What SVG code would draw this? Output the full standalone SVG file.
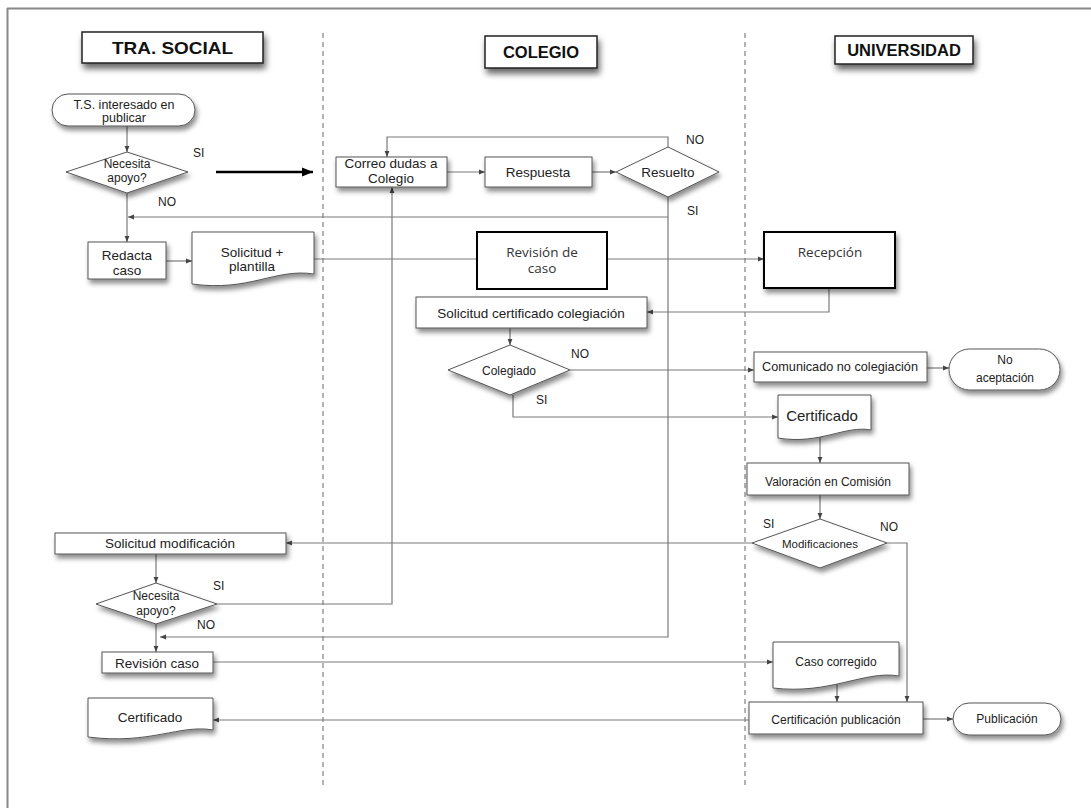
<svg xmlns="http://www.w3.org/2000/svg" width="1091" height="808" viewBox="0 0 1091 808">
<defs>
<filter id="sh" x="-20%" y="-30%" width="150%" height="190%">
<feDropShadow dx="2" dy="4" stdDeviation="2.5" flood-color="#000" flood-opacity="0.45"/>
</filter>
<filter id="shh" x="-20%" y="-30%" width="150%" height="200%">
<feDropShadow dx="2" dy="5" stdDeviation="3" flood-color="#000" flood-opacity="0.6"/>
</filter>
<marker id="ah" viewBox="0 0 10 10" refX="10" refY="5" markerWidth="6" markerHeight="6" markerUnits="userSpaceOnUse" orient="auto">
<path d="M0,1 L10,5 L0,9 Z" fill="#444"/>
</marker>
<marker id="bh" viewBox="0 0 10 10" refX="10" refY="5" markerWidth="11" markerHeight="11" markerUnits="userSpaceOnUse" orient="auto">
<path d="M0,1 L10,5 L0,9 Z" fill="#000"/>
</marker>
</defs>
<style>
.n{fill:#fff;stroke:#555;stroke-width:1;filter:url(#sh)}
.hd{fill:#fff;stroke:#222;stroke-width:1.5;filter:url(#shh)}
.bk{fill:#fff;stroke:#000;stroke-width:2}
.c{fill:none;stroke:#7a7a7a;stroke-width:1.2;marker-end:url(#ah)}
.cl{fill:none;stroke:#7a7a7a;stroke-width:1.2}
.t{font-family:"Liberation Sans",Arial,sans-serif;font-size:12px;fill:#222;text-anchor:middle}
.t13{font-size:13.5px}
.h{font-family:"Liberation Sans",Arial,sans-serif;font-weight:bold;font-size:16.5px;fill:#111;text-anchor:middle}
.g{font-family:"Open Sans","Noto Sans",sans-serif;font-size:13.5px;fill:#333;text-anchor:middle}
.l{font-family:"Liberation Sans",Arial,sans-serif;font-size:12px;fill:#222}
.lane{stroke:#666;stroke-width:1;stroke-dasharray:5,4}
</style>
<rect width="1091" height="808" fill="#fff"/>
<g id="frame">
<line x1="7" y1="8.5" x2="1091" y2="8.5" stroke="#888" stroke-width="2"/>
<line x1="7.5" y1="8" x2="7.5" y2="808" stroke="#888" stroke-width="2"/>
<line class="lane" x1="323" y1="33" x2="323" y2="788"/>
<line class="lane" x1="745" y1="33" x2="745" y2="788"/>
</g>
<g id="connectors">
<path class="c" d="M127,126 V152"/>
<path class="c" d="M127,193 V242"/>
<line x1="216" y1="172" x2="313" y2="172" stroke="#000" stroke-width="2.5" marker-end="url(#bh)"/>
<path class="c" d="M447,172 H485"/>
<path class="c" d="M592,172 H616"/>
<path class="c" d="M668,147 V137 H387 V157"/>
<path class="c" d="M668,197 V637 H160"/>
<path class="c" d="M668,217 H128"/>
<path class="c" d="M166,261 H192"/>
<path class="c" d="M314,259 H764"/>
<path class="c" d="M829,288 V312 H647"/>
<path class="c" d="M510,328 V345"/>
<path class="c" d="M570,370 H754"/>
<path class="c" d="M513,395 V417 H778"/>
<path class="c" d="M927,368 H949"/>
<path class="c" d="M820,436 V463"/>
<path class="c" d="M820,495 V519"/>
<path class="c" d="M752,543 H286"/>
<path class="c" d="M887,543 H907 V702"/>
<path class="c" d="M156,554 V583"/>
<path class="c" d="M217,604 H392 V187"/>
<path class="c" d="M156,624 V652"/>
<path class="c" d="M213,662 H773"/>
<path class="c" d="M837,684 V702"/>
<path class="c" d="M749,720 H213"/>
<path class="c" d="M923,719 H953"/>
</g>
<g id="labels">
<text class="l" x="193" y="157">SI</text>
<text class="l" x="158" y="206">NO</text>
<text class="l" x="686" y="144">NO</text>
<text class="l" x="687" y="215">SI</text>
<text class="l" x="571" y="358">NO</text>
<text class="l" x="536" y="404">SI</text>
<text class="l" x="763" y="528">SI</text>
<text class="l" x="880" y="531">NO</text>
<text class="l" x="213" y="590">SI</text>
<text class="l" x="197" y="629">NO</text>
</g>
<g id="h-social"><rect class="hd" x="82" y="32" width="181" height="31"/><text class="h" x="172.5" y="54" textLength="121" lengthAdjust="spacingAndGlyphs">TRA. SOCIAL</text></g>
<g id="h-colegio"><rect class="hd" x="485" y="36" width="112" height="32"/><text class="h" x="541" y="58">COLEGIO</text></g>
<g id="h-univ"><rect class="hd" x="835" y="36" width="138" height="28"/><text class="h" x="904" y="56">UNIVERSIDAD</text></g>
<g id="ts-interesado"><rect class="n" x="52" y="94" width="143" height="32" rx="16"/><text class="t t13" x="124" y="109" style="font-size:12.5px">T.S. interesado en</text><text class="t" x="124" y="122" style="font-size:12.5px">publicar</text></g>
<g id="necesita1"><path class="n" d="M66,172 L127,152 L188,172 L127,193 Z"/><text class="t" x="127" y="168">Necesita</text><text class="t" x="127" y="182">apoyo?</text></g>
<g id="redacta"><rect class="n" x="88" y="242" width="78" height="37"/><text class="t t13" x="127" y="260">Redacta</text><text class="t t13" x="127" y="275">caso</text></g>
<g id="solicitud-plantilla"><path class="n" d="M192,232 H314 V274 C275,268 250,292 192,284 Z"/><text class="t t13" x="252" y="257">Solicitud +</text><text class="t t13" x="252" y="271">plantilla</text></g>
<g id="correo"><rect class="n" x="336" y="157" width="111" height="30"/><text class="t t13" x="391" y="168">Correo dudas a</text><text class="t t13" x="391" y="183">Colegio</text></g>
<g id="respuesta"><rect class="n" x="485" y="157" width="107" height="30"/><text class="t t13" x="538" y="177">Respuesta</text></g>
<g id="resuelto"><path class="n" d="M616,172 L668,147 L719,172 L668,197 Z"/><text class="t t13" x="668" y="177">Resuelto</text></g>
<g id="revision-de-caso"><rect class="bk" x="477" y="232" width="130" height="57"/><text class="g" x="542" y="257">Revisión de</text><text class="g" x="542" y="273">caso</text></g>
<g id="recepcion"><rect class="bk" x="764" y="232" width="131" height="56" style="filter:url(#sh)"/><text class="g" x="830" y="257">Recepción</text></g>
<g id="sol-cert"><rect class="n" x="416" y="297" width="231" height="31"/><text class="t t13" x="531" y="318">Solicitud certificado colegiación</text></g>
<g id="colegiado"><path class="n" d="M448,370 L510,345 L570,370 L510,395 Z"/><text class="t" x="509" y="375">Colegiado</text></g>
<g id="comunicado"><rect class="n" x="754" y="352" width="173" height="30"/><text class="t" x="840" y="371" style="font-size:12.7px">Comunicado no colegiación</text></g>
<g id="no-aceptacion"><rect class="n" x="949" y="349" width="111" height="41" rx="20.5"/><text class="t" x="1005" y="364">No</text><text class="t" x="1005" y="382">aceptación</text></g>
<g id="certificado-u"><path class="n" d="M778,395 H871 V430 C845,425 820,445 778,438 Z"/><text class="t" x="822" y="421" style="font-size:15px">Certificado</text></g>
<g id="valoracion"><rect class="n" x="747" y="463" width="162" height="32"/><text class="t" x="828" y="486">Valoración en Comisión</text></g>
<g id="modificaciones"><path class="n" d="M752,543 L820,519 L887,543 L820,568 Z"/><text class="t" x="820" y="548" style="font-size:11.5px">Modificaciones</text></g>
<g id="sol-mod"><rect class="n" x="55" y="533" width="231" height="21"/><text class="t t13" x="170" y="548">Solicitud modificación</text></g>
<g id="necesita2"><path class="n" d="M96,604 L156,583 L217,604 L156,624 Z"/><text class="t" x="156" y="600">Necesita</text><text class="t" x="156" y="615">apoyo?</text></g>
<g id="revision-caso"><rect class="n" x="102" y="652" width="111" height="21"/><text class="t t13" x="157" y="668">Revisión caso</text></g>
<g id="certificado-ts"><path class="n" d="M88,698 H213 V730 C180,724 150,745 88,737 Z"/><text class="t t13" x="150" y="722">Certificado</text></g>
<g id="caso-corregido"><path class="n" d="M773,642 H899 V676 C865,670 830,695 773,688 Z"/><text class="t" x="836" y="666">Caso corregido</text></g>
<g id="certificacion"><rect class="n" x="749" y="702" width="174" height="32"/><text class="t" x="836" y="724">Certificación publicación</text></g>
<g id="publicacion"><rect class="n" x="953" y="703" width="108" height="32" rx="16"/><text class="t" x="1007" y="723">Publicación</text></g>
</svg>
